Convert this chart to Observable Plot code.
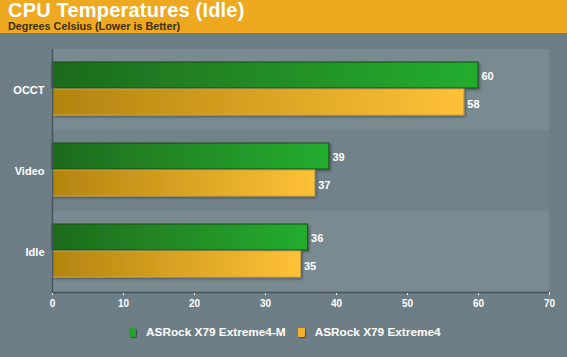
<!DOCTYPE html>
<html><head><meta charset="utf-8">
<script src="https://cdn.jsdelivr.net/npm/d3@7"></script>
<script src="https://cdn.jsdelivr.net/npm/@observablehq/plot@0.6"></script>
<style>
body{margin:0;background:#6d7e86;width:567px;height:357px;overflow:hidden;font-family:"Liberation Sans",Arial,sans-serif;position:relative;}
#hdr{height:33px;background:#efa921;position:relative;}
#t{position:absolute;left:8px;top:-1px;font-size:20px;font-weight:bold;color:#fff;letter-spacing:0.2px;}
#s{position:absolute;left:8px;top:20px;font-size:10.8px;font-weight:bold;color:#3a300c;}
#chart{position:absolute;left:0;top:33px;}
#leg{position:absolute;left:129px;top:325px;font-size:11.8px;font-weight:bold;color:#fff;display:flex;align-items:center;white-space:nowrap;}
.sw{width:7px;height:9px;display:inline-block;margin-right:10px;border-radius:1px;box-shadow:1px 1px 1px rgba(0,0,0,0.4);}
.it{display:flex;align-items:center;margin-right:12px;}
</style></head>
<body>
<div id="hdr"><div id="t">CPU Temperatures (Idle)</div><div id="s">Degrees Celsius (Lower is Better)</div></div>
<div id="chart"></div>
<div id="leg"></div>
<script>
const categories = ["OCCT", "Video", "Idle"];
const seriesNames = ["ASRock X79 Extreme4-M", "ASRock X79 Extreme4"];
const extreme4M = [60, 39, 36];
const extreme4 = [58, 37, 35];
const xTicks = [0, 10, 20, 30, 40, 50, 60, 70];
const seriesColors = ["#22a22c", "#f2b22a"];

const rowsM = categories.map((c, i) => ({cat: c, value: extreme4M[i]}));
const rowsE = categories.map((c, i) => ({cat: c, value: extreme4[i]}));
const lightBands = categories.filter((c, i) => i % 2 === 0);
const darkBands = categories.filter((c, i) => i % 2 === 1);

const NS = "http://www.w3.org/2000/svg";
function defsMark() {
  const defs = document.createElementNS(NS, "defs");
  defs.innerHTML = `
    <linearGradient id="gGreen" x1="0" x2="1" y1="0" y2="0">
      <stop offset="0" stop-color="#1f6a1c"/><stop offset="1" stop-color="#22ad2f"/>
    </linearGradient>
    <linearGradient id="gGold" x1="0" x2="1" y1="0" y2="0">
      <stop offset="0" stop-color="#b3840f"/><stop offset="1" stop-color="#ffc136"/>
    </linearGradient>
    <filter id="sh" x="-5%" y="-20%" width="110%" height="150%">
      <feDropShadow dx="1.5" dy="1.5" stdDeviation="0.8" flood-color="#000" flood-opacity="0.35"/>
    </filter>`;
  return defs;
}

const plot = Plot.plot({
  width: 567,
  height: 285,
  marginTop: 16,
  marginBottom: 26,
  marginLeft: 52,
  marginRight: 18,
  style: {background: "transparent", color: "#fff", fontFamily: "'Liberation Sans', Arial, sans-serif", fontWeight: "bold"},
  x: {domain: [0, 70], ticks: xTicks, label: null, tickSize: 3, tickPadding: 4, tickFormat: d => d},
  y: {domain: categories, padding: 0, label: null, tickSize: 0, tickPadding: 8},
  marks: [
    defsMark,
    Plot.barX(lightBands, {x1: xTicks[0], x2: xTicks[xTicks.length - 1], y: d => d, fill: "#798a91"}),
    Plot.barX(darkBands, {x1: xTicks[0], x2: xTicks[xTicks.length - 1], y: d => d, fill: "#71828a"}),
    Plot.barX(rowsM, {x: "value", y: "cat", insetTop: 13, insetBottom: 42, fill: "url(#gGreen)", stroke: "#184d15", strokeWidth: 1}),
    Plot.barX(rowsE, {x: "value", y: "cat", insetTop: 40, insetBottom: 15, fill: "url(#gGold)", stroke: "#c9a347", strokeWidth: 1}),
    Plot.text(rowsM, {x: "value", y: "cat", text: d => d.value, dy: -14, dx: 3, textAnchor: "start", fill: "#fff", fontSize: 11, fontWeight: "bold"}),
    Plot.text(rowsE, {x: "value", y: "cat", text: d => d.value, dy: 14, dx: 3, textAnchor: "start", fill: "#fff", fontSize: 11, fontWeight: "bold"}),
    Plot.ruleX([xTicks[0]], {stroke: "#45555c", strokeWidth: 1.5}),
    Plot.ruleY([categories[categories.length - 1]], {x1: xTicks[0], x2: xTicks[xTicks.length - 1], dy: 40.5, stroke: "#45555c", strokeWidth: 1.5})
  ]
});
d3.select(plot).selectAll('g[aria-label="y-axis"] text, g[aria-label="y-axis tick label"] text').style("font-size", "11px");
d3.select(plot).selectAll('g[aria-label="x-axis"] text, g[aria-label="x-axis tick label"] text').style("font-size", "10px");
d3.select(plot).selectAll('g[aria-label="bar"]').filter((d, i) => i >= 2).style("filter", "url(#sh)");
document.getElementById("chart").appendChild(plot);

const leg = document.getElementById("leg");
seriesNames.forEach((n, i) => {
  const it = document.createElement("div");
  it.className = "it";
  it.innerHTML = `<span class="sw" style="background:${seriesColors[i]}"></span><span>${n}</span>`;
  leg.appendChild(it);
});
</script>
</body></html>
